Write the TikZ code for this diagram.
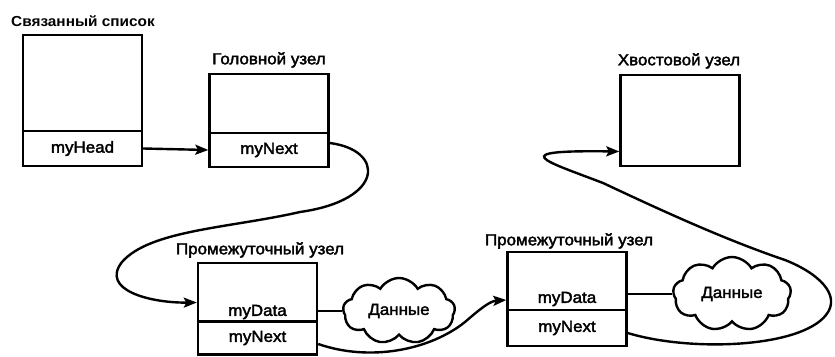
\documentclass[tikz,border=0pt]{standalone}
\usepackage{fontspec}
\setmainfont{Liberation Sans}[FakeStretch=1.06]
\newfontfamily\lblfont{Liberation Sans}[FakeStretch=1.06, FakeBold=2.2]
\usetikzlibrary{arrows.meta,shapes.symbols}
\begin{document}
\begin{tikzpicture}[x=1pt,y=-1pt,
  cell/.style={draw, line width=2.4pt, minimum width=119pt, inner sep=0pt, font=\lblfont\fontsize{16}{16}\selectfont},
  lbl/.style={inner sep=0pt, font=\lblfont\fontsize{16}{16}\selectfont},
  plain/.style={line width=2.4pt},
  link/.style={line width=2.4pt, -{Stealth[length=13pt,width=10pt,inset=2.5pt]}},
  datacloud/.style={cloud, draw, line width=2.4pt, cloud puffs=9, cloud puff arc=120, aspect=2.3, cloud ignores aspect, inner sep=0pt, font=\lblfont\fontsize{16}{16}\selectfont},
]
\useasboundingbox (0,0) rectangle (835,356);

% linked list
\node[cell, minimum height=96pt] (lsu) at (82.5,83) {};
\node[cell, minimum height=35pt] (lsh) at (82.5,148.5) {myHead};
\node[lbl, font=\bfseries\fontsize{14.5}{14.5}\selectfont] (lst) at (83,21) {Связанный список};

% head node
\node[cell, minimum height=59pt] (hdu) at (269,103.5) {};
\node[cell, minimum height=34pt] (hdn) at (269,150) {myNext};
\node[lbl] (hdt) at (269,60) {Головной узел};

% tail node
\node[cell, minimum height=91pt] (tlu) at (680,120.5) {};
\node[lbl] (tlt) at (679,61) {Хвостовой узел};

% middle node 1
\node[cell, minimum height=59pt] (m1u) at (257.5,292.5) {};
\node[lbl] (m1d) at (257.5,312) {myData};
\node[cell, minimum height=33pt] (m1n) at (257.5,338) {myNext};
\node[lbl] (m1t) at (260,250) {Промежуточный узел};

% middle node 2
\node[cell, minimum height=58pt] (m2u) at (567,281) {};
\node[lbl] (m2d) at (567,299) {myData};
\node[cell, minimum height=36pt] (m2n) at (567,328) {myNext};
\node[lbl] (m2t) at (569,241) {Промежуточный узел};

% data clouds
\node[datacloud, minimum width=112pt, minimum height=66pt] (c1) at (399,311) {Данные};
\node[datacloud, minimum width=118pt, minimum height=74pt] (c2) at (732,294) {Данные};

% connectors
\draw[link] (lsh.east) -- (hdn.west);
\draw[plain] (c1.west -| m1u.east) -- (c1.west);
\draw[plain] (c2.west -| m2u.east) -- (c2.west);

\draw[link] ([yshift=7pt]hdn.east) .. controls (385,150) and (385,200) .. (300,212)
  .. controls (230,228) and (150,230) .. (122,262)
  .. controls (100,290) and (150,303) .. ([yshift=-10pt]m1u.west);

\draw[link] ([yshift=-6pt]m1n.east) .. controls (370,362) and (430,350) .. (465,322)
  .. controls (480,309) and (490,301) .. ([yshift=-19pt]m2u.west);

\draw[link] ([yshift=-5pt]m2n.east) .. controls (690,352) and (800,348) .. (826,315)
  .. controls (842,295) and (818,273) .. (785,260)
  .. controls (720,238) and (650,205) .. (603,183)
  .. controls (543,160) and (505,150) .. ([yshift=-31pt]tlu.west);
\end{tikzpicture}
\end{document}
